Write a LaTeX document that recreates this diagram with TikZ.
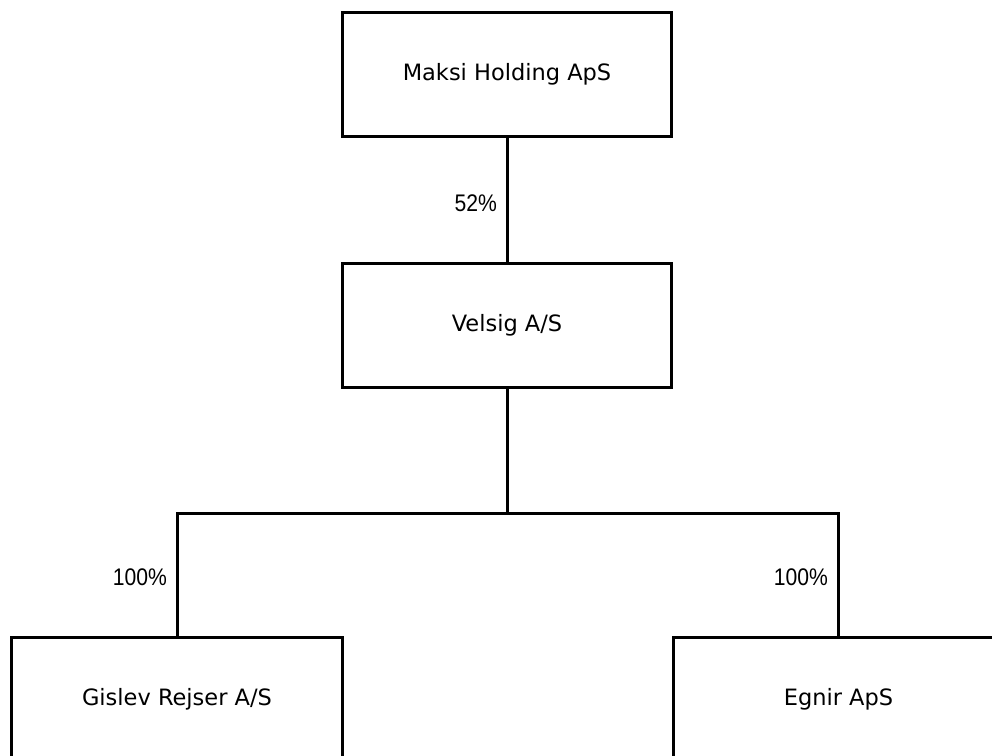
\documentclass[tikz,border=0pt]{standalone}
\usepackage{fontspec}
\newfontfamily\boxfont{DejaVu Sans}
\newfontfamily\lblfont[FakeStretch=0.88]{Liberation Sans}
\begin{document}
\begin{tikzpicture}[x=1bp,y=-1bp,
  company/.style={draw=black, line width=3bp, rectangle, fill=white,
    minimum width=329bp, minimum height=124bp, inner sep=0pt,
    font=\boxfont\fontsize{22.5bp}{27bp}\selectfont},
  link/.style={draw=black, line width=3bp},
  pct/.style={inner sep=0pt, anchor=east, font=\lblfont\fontsize{24bp}{28bp}\selectfont}]
\useasboundingbox (0,0) rectangle (992,756);
\clip (0,0) rectangle (992,756);
\fill[white] (0,0) rectangle (992,756);
\node[company] (maksi) at (507,74.5) {Maksi Holding ApS};
\node[company] (velsig) at (507,325.5) {Velsig A/S};
\node[company, minimum width=331bp] (gislev) at (177,699.5) {Gislev Rejser A/S};
\node[company, minimum width=331bp] (egnir) at (838.5,699.5) {Egnir ApS};
\coordinate (bar) at (507,513);
\draw[link] (maksi.south) -- (velsig.north);
\draw[link] (velsig.south) -- (velsig.south |- bar);
\draw[link, line join=miter] (gislev.north) -- (gislev.north |- bar) -- (egnir.north |- bar) -- (egnir.north);
\node[pct] (p52) at (497,203) {52\%};
\node[pct] (p100a) at (167,577) {100\%};
\node[pct] (p100b) at (828,577) {100\%};
\end{tikzpicture}
\end{document}
